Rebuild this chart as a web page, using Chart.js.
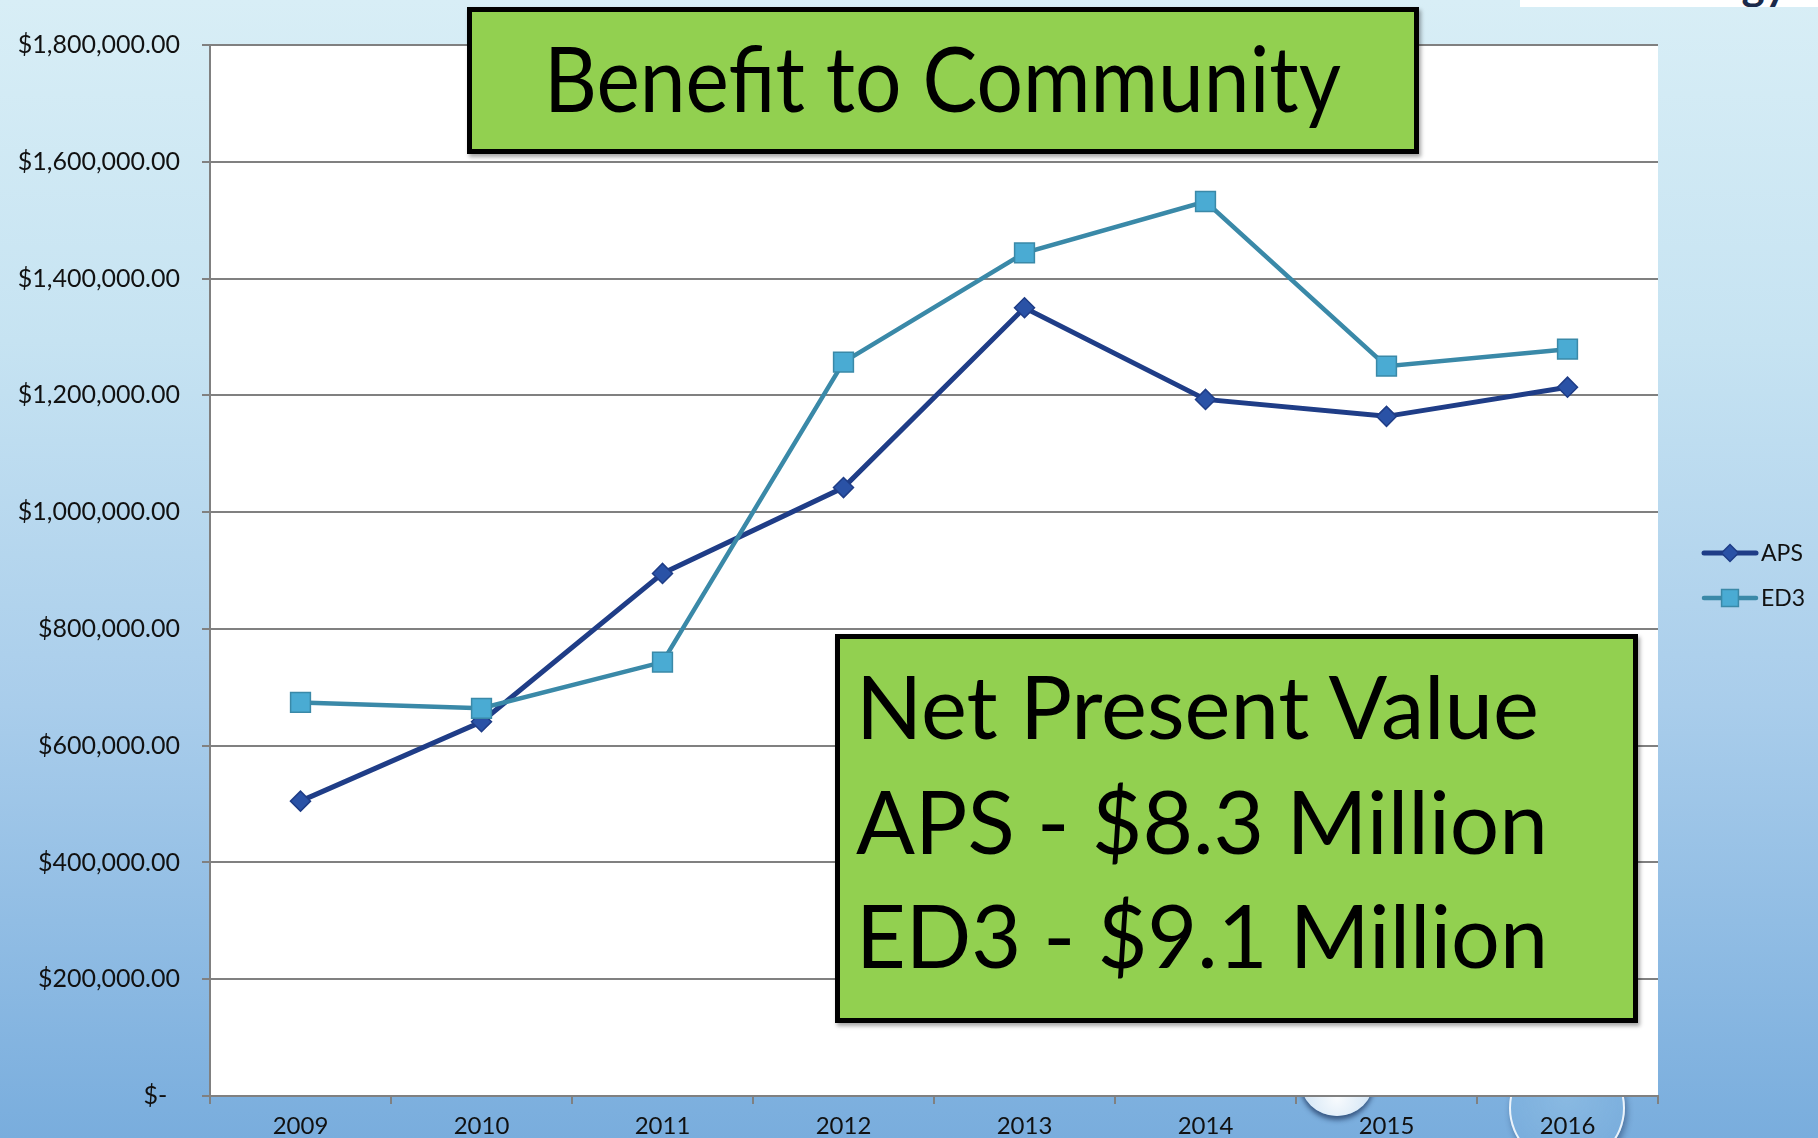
<!DOCTYPE html>
<html>
<head>
<meta charset="utf-8">
<title>Benefit to Community</title>
<script src="https://cdn.jsdelivr.net/npm/chart.js@4.4.1/dist/chart.umd.min.js"></script>
<style>
  html, body { margin: 0; padding: 0; }
  body {
    width: 1818px; height: 1138px; overflow: hidden; position: relative;
    background: linear-gradient(to bottom, #d8eef6 0%, #c6e3f2 30%, #a9cdeb 62%, #79addd 100%);
    font-family: Lato, sans-serif;
  }
  #chart { position: absolute; left: 0; top: 0; z-index: 1; }
  .box {
    position: absolute; z-index: 2; background: #92d050;
    border: 5px solid #000; box-sizing: border-box;
    box-shadow: 2px 3px 4px rgba(0, 0, 0, 0.35);
  }
  .txt {
    position: absolute; z-index: 3; white-space: nowrap; color: #000;
    line-height: 1; transform-origin: 0 0; font-family: Lato, sans-serif;
  }
  .bubble { position: absolute; z-index: 0; border-radius: 50%; }
  #strip { position: absolute; left: 1520px; top: 0; width: 298px; height: 7px; background: #fff; overflow: hidden; z-index: 0; }
  #strip span { position: absolute; right: 30px; bottom: 2px; font: bold 44px Lato, sans-serif; color: #1b2a4a; line-height: 1; }
</style>
</head>
<body>
<div id="strip"><span>Energy</span></div>
<div class="bubble" style="left:1300px; top:1044px; width:74px; height:72px; background:radial-gradient(circle at 50% 75%, rgba(255,255,255,0.95), rgba(200,225,245,0.7)); box-shadow:0 4px 5px rgba(20,40,80,0.65);"></div>
<div class="bubble" style="left:1509px; top:1050px; width:112px; height:112px; background:radial-gradient(circle at 50% 40%, rgba(150,195,230,0.5), rgba(110,165,215,0.4)); border:2px solid rgba(255,255,255,0.85); box-shadow:2px 4px 6px rgba(20,40,80,0.45);"></div>

<canvas id="chart" width="1818" height="1138"></canvas>

<div class="box" style="left:467px; top:7px; width:952px; height:147px;"></div>
<div class="box" style="left:835px; top:634px; width:803px; height:389px;"></div>

<script>
const years = ['2009', '2010', '2011', '2012', '2013', '2014', '2015', '2016'];
const apsValues = [505000, 641000, 895000, 1042000, 1350000, 1193000, 1164000, 1214000];
const ed3Values = [674000, 664000, 743000, 1257000, 1444000, 1532000, 1250000, 1279000];
const seriesNames = ['APS', 'ED3'];
const yMax = 1800000;
const yStep = 200000;

const titleText = 'Benefit to Community';
const npvLines = ['Net Present Value', 'APS - $8.3 Million', 'ED3 - $9.1 Million'];

const grey = '#808080';

// white plot area like the Excel chart
const plotBackground = {
  id: 'plotBackground',
  beforeDraw(chart) {
    const { ctx, chartArea: a } = chart;
    ctx.save();
    ctx.fillStyle = '#ffffff';
    ctx.fillRect(a.left, a.top, a.right - a.left, a.bottom - a.top);
    ctx.restore();
  }
};

// legend sits outside the plot on the right, so draw it by hand
const legendY = [553, 598];
const sideLegend = {
  id: 'sideLegend',
  afterDraw(chart) {
    const ctx = chart.ctx;
    const sets = [chart.data.datasets[0], chart.data.datasets[1]];
    sets.forEach((ds, i) => {
      const y = legendY[i];
      ctx.save();
      ctx.strokeStyle = ds.borderColor;
      ctx.lineWidth = ds.borderWidth;
      ctx.lineCap = 'round';
      ctx.beginPath();
      ctx.moveTo(1704, y);
      ctx.lineTo(1756, y);
      ctx.stroke();
      ctx.fillStyle = ds.pointBackgroundColor;
      ctx.strokeStyle = ds.pointBorderColor;
      ctx.lineWidth = 1.5;
      Chart.helpers.drawPoint(ctx, {
        pointStyle: ds.pointStyle, radius: ds.pointRadius * 0.85, rotation: 0, borderWidth: 1.5
      }, 1730, y);
      ctx.fillStyle = '#111';
      ctx.font = '23px Lato';
      ctx.textBaseline = 'middle';
      ctx.textAlign = 'left';
      ctx.fillText(ds.label, 1761, y + 1);
      ctx.restore();
    });
  }
};

new Chart(document.getElementById('chart'), {
  type: 'line',
  data: {
    labels: years,
    datasets: [
      {
        label: seriesNames[0],
        data: apsValues,
        order: 1,
        borderColor: '#1f3d87',
        borderWidth: 5,
        pointStyle: 'rectRot',
        pointRadius: 10,
        pointBackgroundColor: '#2a52a6',
        pointBorderColor: '#1f3d87',
        pointBorderWidth: 1.5,
        tension: 0
      },
      {
        label: seriesNames[1],
        data: ed3Values,
        order: 0,
        borderColor: '#3a89a8',
        borderWidth: 4.5,
        pointStyle: 'rect',
        pointRadius: 14,
        pointBackgroundColor: '#4aabd3',
        pointBorderColor: '#3a89a8',
        pointBorderWidth: 1.5,
        tension: 0
      }
    ]
  },
  options: {
    responsive: false,
    animation: false,
    devicePixelRatio: 1,
    layout: { padding: { top: 45, right: 160, left: 0, bottom: 0 } },
    plugins: { legend: { display: false }, tooltip: { enabled: false } },
    scales: {
      x: {
        offset: true,
        grid: { offset: true, drawOnChartArea: false, tickLength: 8, color: grey, lineWidth: 2 },
        border: { color: grey, width: 2 },
        ticks: { font: { family: 'Lato', size: 24 }, color: '#111', padding: 8, maxRotation: 0 },
        afterFit(s) { s.height = 42; }
      },
      y: {
        min: 0,
        max: yMax,
        ticks: {
          stepSize: yStep,
          font: { family: 'Lato', size: 25 },
          color: '#111',
          padding: 22,
          callback: (v) => v === 0 ? '$-  ' :
            '$' + v.toLocaleString('en-US', { minimumFractionDigits: 2, maximumFractionDigits: 2 })
        },
        grid: { color: grey, lineWidth: 2, tickLength: 8 },
        border: { color: grey, width: 2 },
        afterFit(s) { s.width = 210; }
      }
    }
  },
  plugins: [plotBackground, sideLegend]
});

// text boxes, stretched to the widths in the slide
const measure = document.createElement('canvas').getContext('2d');
function placeText(text, left, baseline, size, width) {
  measure.font = size + 'px Lato';
  const m = measure.measureText(text);
  const asc = m.fontBoundingBoxAscent, desc = m.fontBoundingBoxDescent;
  const top = baseline - ((size - (asc + desc)) / 2 + asc);
  const el = document.createElement('div');
  el.className = 'txt';
  el.textContent = text;
  el.style.left = left + 'px';
  el.style.top = top + 'px';
  el.style.fontSize = size + 'px';
  el.style.transform = 'scaleX(' + (width / m.width).toFixed(4) + ')';
  document.body.appendChild(el);
}

placeText(titleText, 544, 112, 92, 797);
placeText(npvLines[0], 856, 739, 88, 686);
placeText(npvLines[1], 856, 854, 88, 692);
placeText(npvLines[2], 856, 968, 88, 692);
</script>
</body>
</html>
